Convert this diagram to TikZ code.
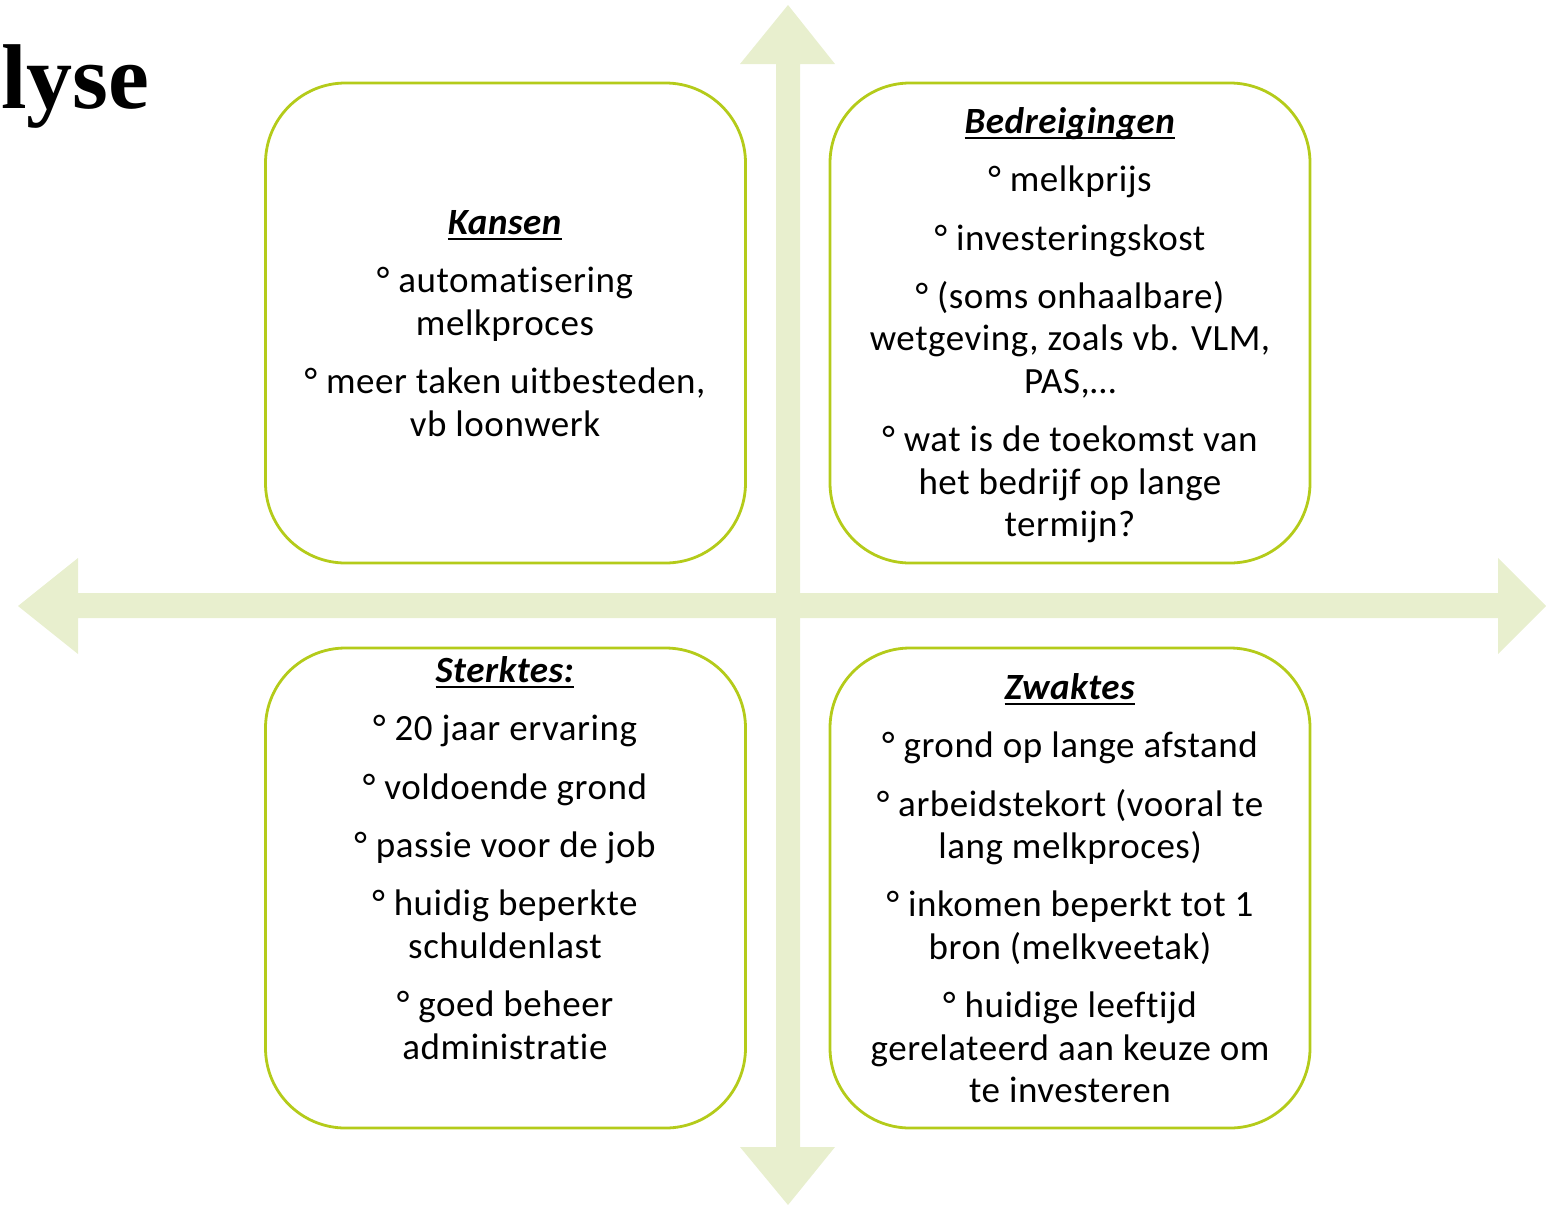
\documentclass[tikz,border=0pt]{standalone}
\usepackage{fontspec}
\setmainfont{Carlito}[LetterSpace=1.5,Ligatures=NoCommon]
\newfontfamily\titlefont{Liberation Serif}
\definecolor{arrowgreen}{HTML}{E8EFCE}
\definecolor{boxgreen}{HTML}{B4CB1A}
\tikzset{
  quad/.style={draw=boxgreen, line width=1.4pt, rounded corners=40pt, fill=white,
    minimum width=240pt, minimum height=240pt, inner sep=0pt},
  quadtext/.style={align=center, font=\fontsize{18.5}{21.2}\selectfont, inner sep=0pt, text=black},
}
\newcommand{\hd}[1]{\setbox0\hbox{\textbf{\textit{#1}}}\rlap{\rule[-2.6pt]{\wd0}{1pt}}\box0}
\newcommand{\pg}{\\[8pt]}
\begin{document}
\begin{tikzpicture}[x=0.5pt,y=-0.5pt]
\useasboundingbox (0,0) rectangle (1546,1205);
% cross arrows
\fill[arrowgreen] (776,64) -- (740,64) -- (788,5) -- (835,64) -- (800,64) -- (800,1147) -- (835,1147) -- (788,1205) -- (740,1147) -- (776,1147) -- cycle;
\fill[arrowgreen] (78,593) -- (78,558) -- (18,606) -- (78,654) -- (78,618) -- (1498,618) -- (1498,654) -- (1546,606) -- (1498,558) -- (1498,593) -- cycle;
% title
\node[anchor=base east, inner sep=0pt, font=\titlefont\bfseries\fontsize{46}{50}\selectfont] (title) at (150,108) {lyse};
% boxes
\node[quad] (kansen) at (505.5,323) {};
\node[quad] (bedr) at (1070,323) {};
\node[quad] (sterk) at (505.5,888) {};
\node[quad] (zwak) at (1070,888) {};
% texts
\node[quadtext, anchor=north] (tk) at (505,210) {\hd{Kansen}\pg
° automatisering\\ melkproces\pg
° meer taken uitbesteden,\\ vb loonwerk};
\node[quadtext, anchor=north] (tb) at (1070,107) {\hd{Bedreigingen}\pg
° melkprijs\pg
° investeringskost\pg
° (soms onhaalbare)\\ wetgeving, zoals vb. VLM,\\ PAS,…\pg
° wat is de toekomst van\\ het bedrijf op lange\\ termijn?};
\node[quadtext, anchor=north] (ts) at (505,656) {\hd{Sterktes:}\pg
° 20 jaar ervaring\pg
° voldoende grond\pg
° passie voor de job\pg
° huidig beperkte\\ schuldenlast\pg
° goed beheer\\ administratie};
\node[quadtext, anchor=north] (tz) at (1070,673) {\hd{Zwaktes}\pg
° grond op lange afstand\pg
° arbeidstekort (vooral te\\ lang melkproces)\pg
° inkomen beperkt tot 1\\ bron (melkveetak)\pg
° huidige leeftijd\\ gerelateerd aan keuze om\\ te investeren};
\end{tikzpicture}
\end{document}
